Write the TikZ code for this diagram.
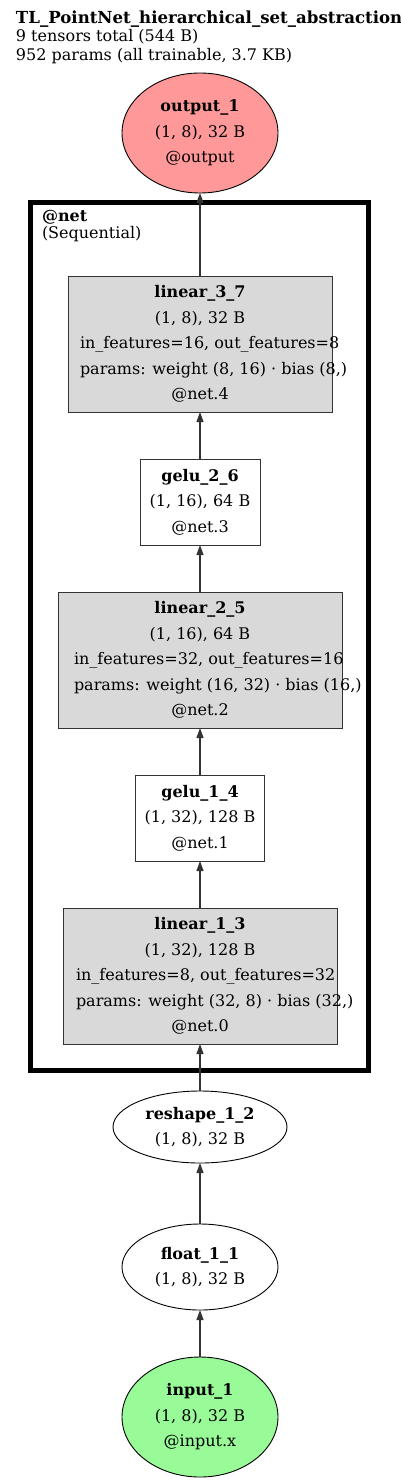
\documentclass[tikz,border=0pt]{standalone}
\usepackage{fontspec}
\setmainfont{DejaVu Serif}
\usepackage{xcolor}
\usepackage{tikz}
\usetikzlibrary{arrows.meta,positioning,shapes.geometric}

\definecolor{outred}{RGB}{255,153,153}
\definecolor{ingreen}{RGB}{152,251,152}
\definecolor{lingray}{RGB}{217,217,217}
\definecolor{edgegray}{RGB}{51,51,51}

\begin{document}
\begin{tikzpicture}[
        x=1pt, y=1pt,
        node distance=47pt,
        every node/.style={font=\fontsize{16}{25.5}\selectfont, align=flush center, outer sep=0pt},
        tensor/.style={ellipse, draw=black, line width=0.9pt, inner sep=0pt, minimum width=156pt},
        layer/.style={rectangle, draw=edgegray, line width=1pt, inner ysep=0pt, minimum height=136pt},
        linlayer/.style={layer, fill=lingray},
        gelulayer/.style={layer, fill=white, minimum height=86pt},
        netbox/.style={rectangle, draw=black, line width=5pt, inner sep=0pt},
        caption/.style={anchor=base west, inner sep=0pt, align=left},
        flow/.style={->, draw=edgegray, line width=1.2pt},
        >={Triangle[length=10pt,width=7pt]} % arrow tip
    ]
        \useasboundingbox (0,0) rectangle (400,-1483);

        % header
        \node[caption, font=\fontsize{16.6}{18}\selectfont\bfseries] (title) at (16,-23.3) {TL\_PointNet\_hierarchical\_set\_abstraction};
        \node[caption] (tcount) at (16,-41.8) {9 tensors total (544 B)};
        \node[caption] (pcount) at (16,-60.3) {952 params (all trainable, 3.7 KB)};

        % cluster @net
        \node[netbox, minimum width=337.5pt, minimum height=867.5pt] (net) at (199.25,-636.25) {};
        \node[caption, font=\fontsize{16}{18}\selectfont\bfseries] (netname) at (42,-221.7) {@net};
        \node[caption] (nettype) at (42,-238.5) {(Sequential)};

        % nodes
        \node[tensor, fill=ingreen, minimum height=120pt] (input) at (200,-1417) {\textbf{input\_1}\\(1, 8), 32 B\\@input.x};
        \node[tensor, fill=white, minimum height=86pt] (float) [above=of input] {\textbf{float\_1\_1}\\(1, 8), 32 B};
        \node[tensor, fill=white, minimum width=174pt, minimum height=72pt] (reshape) [above=61pt of float] {\textbf{reshape\_1\_2}\\(1, 8), 32 B};
        \node[linlayer, text width=248pt, inner xsep=13pt] (lin13) [above=of reshape] {\textbf{linear\_1\_3}\\(1, 32), 128 B\\\mbox{in\_features=8, out\_features=32}\\\mbox{params: weight (32, 8) · bias (32,)}\\@net.0};
        \node[gelulayer, minimum width=129pt] (gelu14) [above=of lin13] {\textbf{gelu\_1\_4}\\(1, 32), 128 B\\@net.1};
        \node[linlayer, text width=252pt, inner xsep=16pt] (lin25) [above=of gelu14] {\textbf{linear\_2\_5}\\(1, 16), 64 B\\\mbox{in\_features=32, out\_features=16}\\\mbox{params: weight (16, 32) · bias (16,)}\\@net.2};
        \node[gelulayer, minimum width=120pt] (gelu26) [above=of lin25] {\textbf{gelu\_2\_6}\\(1, 16), 64 B\\@net.3};
        \node[linlayer, text width=240pt, inner xsep=12pt] (lin37) [above=of gelu26] {\textbf{linear\_3\_7}\\(1, 8), 32 B\\\mbox{in\_features=16, out\_features=8}\\\mbox{params: weight (8, 16) · bias (8,)}\\@net.4};
        \node[tensor, fill=outred, minimum height=120pt] (output) [above=83pt of lin37] {\textbf{output\_1}\\(1, 8), 32 B\\@output};

        % edges
        \draw[flow] (input) -- (float);
        \draw[flow] (float) -- (reshape);
        \draw[flow] (reshape) -- (lin13);
        \draw[flow] (lin13) -- (gelu14);
        \draw[flow] (gelu14) -- (lin25);
        \draw[flow] (lin25) -- (gelu26);
        \draw[flow] (gelu26) -- (lin37);
        \draw[flow] (lin37) -- (output);

    \end{tikzpicture}
\end{document}
